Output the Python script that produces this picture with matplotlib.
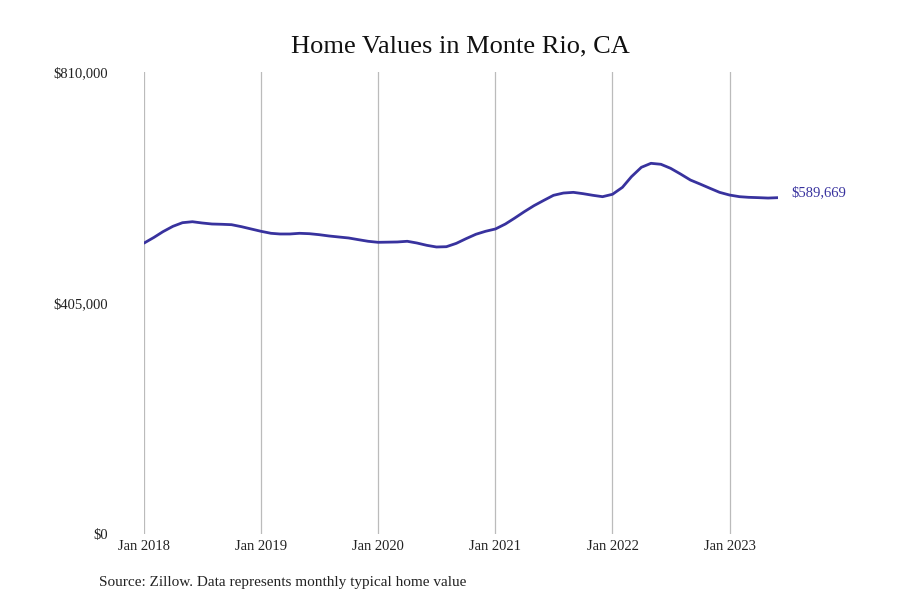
import numpy as np
import pandas as pd
import matplotlib
matplotlib.use('Agg')
import matplotlib.pyplot as plt

### Data (monthly typical home value)
months = pd.date_range('2018-01-01', '2023-06-01', freq='MS')
values = [510000, 520000, 530000, 539400, 545800, 547500, 545300, 543500, 543000, 542300, 538800, 534800,
          530700, 527200, 526000, 526000, 527200, 526500, 524800, 522500, 520700, 519000, 516000, 513200,
          511400, 511700, 512000, 513200, 510200, 506100, 503200, 503700, 509600, 517700, 525500, 530700,
          534800, 543500, 553500, 565100, 575600, 585000, 593800, 597800, 599000, 596700, 593800, 591400,
          595600, 607800, 626400, 642900, 649900, 648200, 641200, 631200, 620600, 613600, 606100, 599000,
          594300, 591400, 590300, 589700, 589000, 589669]
yticks = [0, 405000, 810000]
ytick_labels = ['$0', '$405,000', '$810,000']
xticks = pd.date_range('2018-01-01', '2023-01-01', freq='YS')
xtick_labels = ['Jan %d' % d.year for d in xticks]

title = 'Home Values in Monte Rio, CA'
source = 'Source: Zillow. Data represents monthly typical home value'
line_color = '#38329e'

plt.rcParams['font.family'] = ['Liberation Serif', 'DejaVu Serif']

fig = plt.figure(figsize=(9, 6), dpi=100)
ax = fig.add_axes([0.16, 0.11, 0.7044, 0.77])

ax.plot(months, values, color=line_color, linewidth=2.0, solid_capstyle='round')
ax.set_xlim(months[0], months[-1])
ax.set_ylim(0, 810000)

ax.set_yticks(yticks)
ax.set_yticklabels(ytick_labels, fontsize=10.5, color='#222222')
ax.set_xticks(xticks)
ax.set_xticklabels(xtick_labels, fontsize=10.5, color='#222222')
ax.tick_params(axis='y', length=0, pad=26)
ax.tick_params(axis='x', length=0, pad=4)
ax.grid(axis='x', color='#bbbbbb', linewidth=0.9)
ax.grid(axis='y', visible=False)
for s in ax.spines.values():
    s.set_visible(False)

# end label
ax.annotate('$%s' % format(values[-1], ','), xy=(months[-1], values[-1]),
            xytext=(10, 3.5), textcoords='offset points', va='center', ha='left',
            fontsize=10.5, color=line_color)

fig.text(0.512, 0.922, title, ha='center', va='center', fontsize=19, color='#111111')
fig.text(0.11, 0.029, source, ha='left', va='center', fontsize=11, color='#222222')

plt.savefig('out.png', dpi=100)
